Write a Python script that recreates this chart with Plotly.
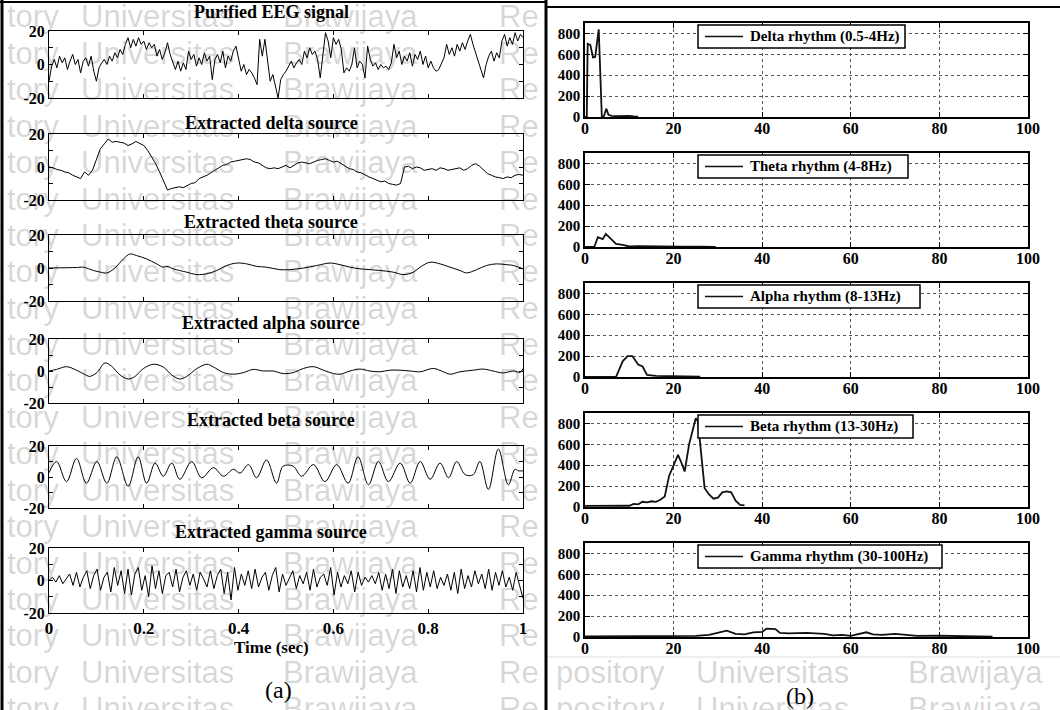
import plotly.graph_objects as go
import numpy as np

W, H = 1060, 710

# ---------------- data ----------------
left_titles = ["Purified EEG signal", "Extracted delta source", "Extracted theta source",
               "Extracted alpha source", "Extracted beta source", "Extracted gamma source"]

purified = [-10, -1, 3, -2, 5, 1, 4, -3, 2, 6,
            0, 3, -5, 2, 4, -1, 5, -4, -10, -2,
            1, 3, 0, 5, 2, 7, 4, 9, 6, 12,
            16, 10, 15, 11, 16, 12, 14, 9, 13, 10,
            12, 5, 9, 3, 7, 13, 6, 1, -3, 2,
            -4, 1, -3, 8, 3, 6, -1, 4, 0, 7,
            2, 5, -9, 3, 6, 1, 8, -2, 5, 2,
            8, 11, 4, -4, 0, -6, -3, -5, -8, -12,
            15, 5, 15, 3, -10, -6, -14, -20, -9, -6,
            -4, -1, 2, -2, 1, 3, 0, 8, 4, 10,
            6, 8, 3, -8, 6, 19, 14, 4, 16, 12,
            15, 9, -5, -2, -4, 0, 10, -2, 2, 0,
            -8, 11, 3, -1, 1, -3, 0, -2, -1, -3,
            1, 12, 4, 8, 0, 5, 2, 7, -1, 6,
            3, 8, 0, 5, -2, 2, -2, -4, -3, 1,
            4, 12, 6, 10, 5, 12, 8, 13, 9, 14,
            18, 12, 7, 3, -2, -8, 0, 5, 8, 2,
            7, 4, 14, 18, 11, 16, 12, 19, 14, 18, 16]

delta_src = [0, -0.5, -1.5, -2, -3, -3.5, -5, -6, -7, -3, -5, -2, 5, 11, 14, 17, 15, 15.5, 15, 14.5,
             13, 14, 15.5, 14, 13, 10, 6, 2, -3, -9, -14, -13, -12.5, -12, -12.5, -11, -10, -9.5, -7, -6,
             -5, -3.5, -2, -0.5, 1, 1.5, 3, 3.5, 4, 4.5, 5, 4.5, 3, 2.5, 1, -0.5, -1, -0.5, -1, 0,
             1, -0.5, 1, 2.5, 3, 2.5, 2, 3, 4, 4.5, 5, 4, 3, 3.5, 2, 1, -1, -1.5, -3, -3.5,
             -5, -6, -7, -8, -9, -8.5, -10, -10.5, -11, -10, 0, 0.5, -1, 0, -0.5, -2, -1.5, -1, -2, -0.5,
             -1, -2, -1.5, -1, -0.5, -2, -1, 1, 2, 0.5, -2, -4, -5, -6, -6.5, -7, -6, -6.5, -5, -4.5, -5]

theta_t = [0, 0.058, 0.072, 0.094, 0.108, 0.122, 0.139, 0.157, 0.171, 0.185, 0.206, 0.227, 0.241, 0.248,
           0.262, 0.29, 0.312, 0.333, 0.354, 0.375, 0.396, 0.417, 0.438, 0.459, 0.487, 0.508, 0.537,
           0.565, 0.593, 0.614, 0.635, 0.656, 0.677, 0.698, 0.726, 0.748, 0.769, 0.783, 0.804, 0.825,
           0.846, 0.867, 0.881, 0.902, 0.923, 0.944, 0.966, 0.98, 1.0]
theta_v = [0, 0.3, 0.5, -1.5, -2.5, -3, 0, 5.5, 8.5, 7.5, 5.5, 2.5, 0.5, 1,
           -0.5, -2.5, -4, -3.5, -1.5, 1.5, 3, 2.5, 1, 0.5, -1, -1, 0,
           1.5, 3, 2, 0.5, -0.5, -1, -1.5, -2.5, -4, -2.5, 0.5, 3.5, 2.5,
           0.5, -1.5, -3, -1, 1.5, 2.5, 2, 1.5, -0.5]

alpha_t = [0, 0.016, 0.037, 0.058, 0.079, 0.086, 0.101, 0.118, 0.132, 0.15, 0.167, 0.181, 0.199, 0.22,
           0.241, 0.259, 0.276, 0.29, 0.312, 0.333, 0.347, 0.368, 0.389, 0.41, 0.431, 0.452, 0.473,
           0.494, 0.515, 0.537, 0.558, 0.579, 0.6, 0.614, 0.635, 0.656, 0.677, 0.698, 0.719, 0.741,
           0.762, 0.783, 0.811, 0.832, 0.846, 0.867, 0.895, 0.916, 0.937, 0.958, 0.98, 0.994, 1.0]
alpha_v = [0, 1, 2.7, 0.5, -2.7, -3.4, -1, 5, 3, -2.5, -5, -3.5, 1.5, 4.2,
           2.5, -2.5, -5, -3.5, 1.5, 4.2, 2.5, -1, -2, -1, 1, 0, 0,
           -1.6, -1, 1.6, 2.7, 0.5, -1.6, -2, 0, 1.2, 0, -0.5, 0.5, 0.5,
           0, -0.5, 1.6, -0.5, -2, -0.5, 0.5, 1.2, 0, -1.2, 0, -0.8, 1.5]

beta_t = [0, 0.016, 0.037, 0.058, 0.079, 0.101, 0.122, 0.143, 0.167, 0.188, 0.206, 0.224, 0.241, 0.259,
          0.276, 0.301, 0.322, 0.347, 0.368, 0.389, 0.403, 0.421, 0.438, 0.459, 0.48, 0.494, 0.515,
          0.533, 0.558, 0.582, 0.607, 0.631, 0.652, 0.674, 0.695, 0.716, 0.741, 0.762, 0.783, 0.804,
          0.825, 0.843, 0.86, 0.878, 0.895, 0.909, 0.927, 0.948, 0.969, 0.983, 0.99, 1.0]
beta_v = [2.7, 10, -3, 12, -4, 10, -4, 13, -6, 13, -4, 9, 0.5, 9,
          -1.5, 10, -0.5, 6, 0.5, 5, 2.5, 8, -0.5, 11, -4, 7, 7,
          0.5, 8, -3, 8, -4, 13, -5, 10, -3, 9, -4, 10, -1.5,
          9, -0.5, 10, 1.5, 1.5, 10, -8, 18, -5, 5, 4, 4]

gamma_src = [0, 2, -1, 3, -2, 1, 4, -3, 5, -4, 2, 6, -5, 3, 7, -6, 2, 5, -7, 8,
             -3, 6, -8, 7, -9, 4, 8, -6, 3, -10, 9, -5, 6, -8, 3, 5, -4, 7, -7, 2,
             6, -3, 4, -6, 5, 1, -4, 6, -5, 3, 7, -8, 5, -12, 8, -6, 4, -3, 6, -5,
             7, -4, 2, 5, -6, 3, 8, -7, 4, -3, 2, 6, -5, 3, -2, 5, -6, 7, -4, 2,
             4, -3, 8, -9, 5, -4, 3, -2, 6, -7, 5, -3, 2, -1, 3, -2, 5, -6, 4, -5,
             7, -8, 6, -4, 3, -5, 6, -7, 8, -6, 5, -4, 6, -5, 2, -3, 4, -6, 5, -8,
             7, -5, 3, -4, 6, -2, 4, -5, 7, -6, 5, -3, 6, -4, 2, -6, 5, -3, -11]

rhythm_names = ["Delta rhythm (0.5-4Hz)", "Theta rhythm (4-8Hz)", "Alpha rhythm (8-13Hz)",
                "Beta rhythm (13-30Hz)", "Gamma rhythm (30-100Hz)"]

delta_f = [0, 0.4, 0.6, 1.2, 1.8, 2.3, 3.1, 3.8, 4.3, 4.8, 5.3, 6, 7, 8, 9, 10, 11, 12]
delta_p = [0, 0, 700, 690, 570, 575, 840, 0, 10, 80, 20, 10, 8, 10, 6, 10, 5, 3]

theta_f = [0, 2.1, 2.9, 4.0, 4.7, 5.9, 7.0, 8.5, 10, 12, 15, 18, 22, 26, 29.5]
theta_p = [0, 0, 95, 75, 125, 80, 30, 20, 5, 8, 5, 6, 4, 3, 2]

alpha_f = [0, 7, 8.5, 9.6, 10.7, 12, 13, 14, 16, 20, 26]
alpha_p = [0, 0, 150, 200, 200, 120, 100, 20, 10, 5, 3]

beta_f = [0, 5, 10, 11, 12, 13, 14, 15, 16, 17, 18, 19, 20, 21, 22, 22.5, 23.5, 24.5, 25, 25.5,
          26.5, 27, 28, 29, 30, 31, 32, 33, 34, 35, 36]
beta_p = [10, 10, 12, 30, 25, 50, 45, 55, 50, 70, 100, 300, 400, 500, 400, 340, 600, 780, 850, 820,
          350, 180, 120, 80, 90, 140, 150, 140, 60, 20, 15]

gamma_f = [0, 10, 20, 25, 28, 30, 32, 34, 36, 38, 40, 41, 43, 44, 46, 50, 52, 54, 56, 58, 60,
           62, 63.5, 65, 67, 70, 72, 75, 80, 85, 90, 92]
gamma_p = [5, 5, 8, 10, 20, 40, 60, 30, 25, 45, 50, 80, 75, 40, 35, 40, 35, 30, 15, 20, 10,
           30, 45, 25, 20, 30, 20, 10, 12, 8, 5, 3]

left_ytickvals = [-20, -10, 0, 10, 20]
left_yticktext = ["-20", "", "0", "", "20"]
time_tickvals = [0, 0.2, 0.4, 0.6, 0.8, 1]
time_ticktext = ["0", "0.2", "0.4", "0.6", "0.8", "1"]
freq_tickvals = [0, 20, 40, 60, 80, 100]
power_tickvals = [0, 200, 400, 600, 800]

watermark_words = ["tory", "Universitas", "Brawijaya", "Re"]
watermark_tail = ["pository", "Universitas", "Brawijaya"]

# ---------------- layout geometry (pixels) ----------------
SERIF = "Liberation Serif"
left_x = (49, 523)
left_boxes = [(31, 98), (134, 200), (235, 301), (339, 403), (446, 508), (548, 613)]
left_title_y = [12, 123, 222, 323, 420, 532]
right_x = (585, 1028)
right_boxes = [(23, 117), (153, 247), (283, 377), (413, 507), (543, 637)]
legend_right = [905, 908, 920, 913, 942]


def fx(px):
    return px / W


def fy(py):
    return 1 - py / H


fig = go.Figure()
layout = dict(width=W, height=H, margin=dict(l=0, r=0, t=0, b=0, pad=0, autoexpand=False),
              paper_bgcolor="white", plot_bgcolor="rgba(0,0,0,0)",
              showlegend=False, annotations=[], shapes=[])

left_series = [
    (np.linspace(0, 1, len(purified)), purified, "linear"),
    (np.linspace(0, 1, len(delta_src)), delta_src, "linear"),
    (theta_t, theta_v, "spline"),
    (alpha_t, alpha_v, "spline"),
    (beta_t, beta_v, "spline"),
    (np.linspace(0, 1, len(gamma_src)), gamma_src, "linear"),
]

for i, (top, bot) in enumerate(left_boxes):
    n = i + 1
    sfx = "" if n == 1 else str(n)
    last = (i == len(left_boxes) - 1)
    layout["xaxis" + sfx] = dict(
        domain=[fx(left_x[0]), fx(left_x[1])], range=[0, 1], anchor="y" + sfx,
        showline=True, linecolor="black", linewidth=1, mirror="ticks",
        ticks="inside", ticklen=4, tickcolor="black", tickwidth=1,
        tickvals=time_tickvals, ticktext=time_ticktext, showticklabels=last,
        tickfont=dict(family=SERIF, size=17, color="black", weight="bold"),
        showgrid=False, zeroline=False, fixedrange=True)
    layout["yaxis" + sfx] = dict(
        domain=[fy(bot), fy(top)], range=[-20, 20], anchor="x" + sfx,
        showline=True, linecolor="black", linewidth=1, mirror="ticks",
        ticks="inside", ticklen=4, tickcolor="black", tickwidth=1,
        tickvals=left_ytickvals, ticktext=left_yticktext,
        tickfont=dict(family=SERIF, size=16, color="black", weight="bold"),
        showgrid=False, zeroline=False, fixedrange=True)
    xs, ys, shape = left_series[i]
    fig.add_trace(go.Scatter(x=list(xs), y=ys, mode="lines", xaxis="x" + sfx, yaxis="y" + sfx,
                             line=dict(color="black", width=1, shape=shape), showlegend=False,
                             hoverinfo="skip"))
    layout["annotations"].append(dict(
        text=left_titles[i], x=fx(271), y=fy(left_title_y[i]), xref="paper", yref="paper",
        xanchor="center", yanchor="middle", showarrow=False,
        font=dict(family=SERIF, size=18, color="black", weight="bold")))

layout["annotations"].append(dict(
    text="Time (sec)", x=fx(271), y=fy(647), xref="paper", yref="paper",
    xanchor="center", yanchor="middle", showarrow=False,
    font=dict(family=SERIF, size=17, color="black", weight="bold")))
layout["annotations"].append(dict(
    text="(a)", x=fx(278), y=fy(690), xref="paper", yref="paper",
    xanchor="center", yanchor="middle", showarrow=False,
    font=dict(family=SERIF, size=24, color="black")))
layout["annotations"].append(dict(
    text="(b)", x=fx(800), y=fy(696), xref="paper", yref="paper",
    xanchor="center", yanchor="middle", showarrow=False,
    font=dict(family=SERIF, size=24, color="black")))

right_series = [(delta_f, delta_p), (theta_f, theta_p), (alpha_f, alpha_p),
                (beta_f, beta_p), (gamma_f, gamma_p)]

for j, (top, bot) in enumerate(right_boxes):
    n = 7 + j
    sfx = str(n)
    layout["xaxis" + sfx] = dict(
        domain=[fx(right_x[0]), fx(right_x[1])], range=[0, 100], anchor="y" + sfx,
        showline=True, linecolor="black", linewidth=1.5, mirror="ticks",
        ticks="inside", ticklen=5, tickcolor="black", tickwidth=1,
        tickvals=freq_tickvals, showticklabels=True, ticklabelstandoff=-4,
        tickfont=dict(family=SERIF, size=16, color="black", weight="bold"),
        showgrid=True, gridcolor="#555555", griddash="dot", gridwidth=1,
        zeroline=False, fixedrange=True)
    layout["yaxis" + sfx] = dict(
        domain=[fy(bot), fy(top)], range=[0, 900], anchor="x" + sfx,
        showline=True, linecolor="black", linewidth=1.5, mirror="ticks",
        ticks="inside", ticklen=5, tickcolor="black", tickwidth=1,
        tickvals=power_tickvals,
        tickfont=dict(family=SERIF, size=15, color="black", weight="bold"),
        showgrid=True, gridcolor="#555555", griddash="dot", gridwidth=1,
        zeroline=False, fixedrange=True)
    fx_, fp_ = right_series[j]
    fig.add_trace(go.Scatter(x=fx_, y=fp_, mode="lines", xaxis="x" + sfx, yaxis="y" + sfx,
                             name=rhythm_names[j], showlegend=False,
                             line=dict(color="#111111", width=1.8), hoverinfo="skip"))
    # legend-like key box drawn on top of the grid
    ltop, lbot = top + 2, top + 25
    lmid = (ltop + lbot) / 2
    layout["shapes"].append(dict(
        type="rect", xref="paper", yref="paper", layer="above",
        x0=fx(698), x1=fx(legend_right[j]), y0=fy(lbot), y1=fy(ltop),
        fillcolor="white", line=dict(color="black", width=1.5)))
    layout["shapes"].append(dict(
        type="line", xref="paper", yref="paper", layer="above",
        x0=fx(705), x1=fx(743), y0=fy(lmid), y1=fy(lmid),
        line=dict(color="#111111", width=1.5)))
    layout["annotations"].append(dict(
        text=rhythm_names[j], x=fx(748), y=fy(lmid), xref="paper", yref="paper",
        xanchor="left", yanchor="middle", showarrow=False,
        font=dict(family=SERIF, size=15, color="black", weight="bold")))

# ---------------- watermark ----------------
WM_FONT = dict(family="Liberation Sans", size=31, color="rgba(0,0,0,0.17)")
word_pos = [(33, "center"), (157, "center"), (350, "center"), (497, "left")]
tail_pos = [(610, "center"), (772, "center"), (975, "center")]
for k in range(20):
    yc = 17 + 36.4 * k
    for word, (xp, anc) in zip(watermark_words, word_pos):
        layout["annotations"].append(dict(
            text=word, x=fx(xp), y=fy(yc), xref="paper", yref="paper",
            xanchor=anc, yanchor="middle", showarrow=False, font=WM_FONT))
    if yc > 655:
        for word, (xp, anc) in zip(watermark_tail, tail_pos):
            layout["annotations"].append(dict(
                text=word, x=fx(xp), y=fy(yc), xref="paper", yref="paper",
                xanchor=anc, yanchor="middle", showarrow=False, font=WM_FONT))

# ---------------- frame lines ----------------
layout["shapes"] += [
    dict(type="line", xref="paper", yref="paper", x0=fx(2), x1=fx(2), y0=0, y1=1,
         line=dict(color="black", width=3)),
    dict(type="line", xref="paper", yref="paper", x0=fx(546), x1=fx(546), y0=0, y1=1,
         line=dict(color="black", width=3)),
    dict(type="line", xref="paper", yref="paper", x0=0, x1=fx(546), y0=fy(2), y1=fy(2),
         line=dict(color="black", width=2)),
    dict(type="line", xref="paper", yref="paper", x0=fx(546), x1=1, y0=fy(7), y1=fy(7),
         line=dict(color="black", width=2)),
    dict(type="line", xref="paper", yref="paper", x0=fx(548), x1=1, y0=fy(657), y1=fy(657),
         line=dict(color="#dddddd", width=1)),
]

fig.update_layout(**layout)
fig.write_html("out.html", config={"displayModeBar": False},
               post_script="document.body.style.margin='0';document.body.style.overflow='hidden';")
